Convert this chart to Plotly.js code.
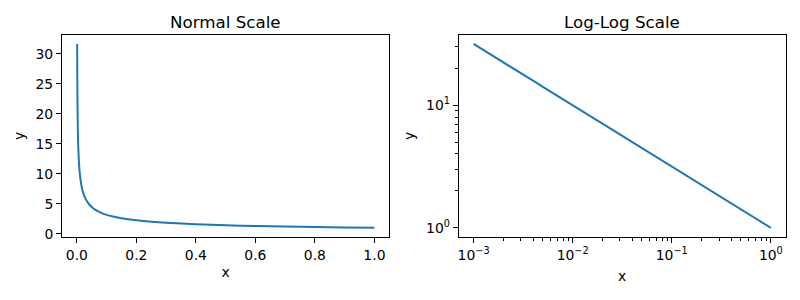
<!DOCTYPE html>
<html>
<head>
<meta charset="utf-8">
<script src="https://cdn.plot.ly/plotly-3.0.1.min.js"></script>
<style>html,body{margin:0;padding:0;background:#fff;}#chart{width:800px;height:300px;}</style>
</head>
<body>
<div id="chart"></div>
<script>
// Values (y vs x)
const xValues = [0.001,0.0012,0.0015,0.0018,0.002,0.0025,0.003,0.0035,0.004,0.0045,0.005,0.006,0.007,0.008,0.009,0.01,0.011,0.0125,0.015,0.0175,0.02,0.025,0.03,0.035,0.04,0.045,0.05,0.06,0.07,0.08,0.09,0.1,0.125,0.15,0.2,0.25,0.3,0.4,0.5,0.6,0.7,0.8,0.9,1.0];
const yValues = [31.6,28.9,25.8,23.6,22.4,20.0,18.3,16.9,15.8,14.9,14.1,12.9,12.0,11.2,10.5,10.0,9.53,8.94,8.16,7.56,7.07,6.32,5.77,5.35,5.0,4.71,4.47,4.08,3.78,3.54,3.33,3.16,2.83,2.58,2.24,2.0,1.83,1.58,1.41,1.29,1.2,1.12,1.05,1.0];
const titles = ["Normal Scale", "Log-Log Scale"];
const linTickVals = [0, 0.2, 0.4, 0.6, 0.8, 1.0];
const linTickText = ["0.0", "0.2", "0.4", "0.6", "0.8", "1.0"];
const linYTickVals = [0, 5, 10, 15, 20, 25, 30];
const logXTickVals = [0.001, 0.01, 0.1, 1];
const logXTickText = ["10<sup>−3</sup>", "10<sup>−2</sup>", "10<sup>−1</sup>", "10<sup>0</sup>"];
const logYTickVals = [1, 10];
const logYTickText = ["10<sup>0</sup>", "10<sup>1</sup>"];

const minorX = [];
for (const d of [0.001, 0.01, 0.1]) for (let k = 2; k <= 9; k++) minorX.push(k * d);
const minorY = [];
for (const d of [1, 10]) for (let k = 2; k <= 9; k++) minorY.push(k * d);

const color = '#1f77b4';
const font = {family: 'DejaVu Sans', size: 13.9, color: '#000'};

const common = {
  showline: true, mirror: true, linecolor: '#000', linewidth: 1,
  ticks: 'outside', ticklen: 5, tickwidth: 1, tickcolor: '#000',
  showgrid: false, zeroline: false, tickfont: font
};

const data = [
  {x: xValues, y: yValues, type: 'scatter', mode: 'lines', line: {color: color, width: 2, shape: 'spline', smoothing: 0.5}, xaxis: 'x', yaxis: 'y', showlegend: false},
  {x: xValues, y: yValues, type: 'scatter', mode: 'lines', line: {color: color, width: 2}, xaxis: 'x2', yaxis: 'y2', showlegend: false}
];

const layout = {
  width: 800, height: 300,
  margin: {l: 0, r: 0, t: 0, b: 0},
  paper_bgcolor: '#fff', plot_bgcolor: '#fff',
  font: font,
  xaxis: Object.assign({}, common, {
    domain: [0.0775, 0.4866], range: [-0.04995, 1.04995],
    tickmode: 'array', tickvals: linTickVals, ticktext: linTickText,
    title: {text: 'x', font: font, standoff: 5}, anchor: 'y'
  }),
  yaxis: Object.assign({}, common, {
    domain: [0.21, 0.8843], range: [-0.53, 33.15],
    tickmode: 'array', tickvals: linYTickVals,
    title: {text: 'y', font: font, standoff: 7}, anchor: 'x'
  }),
  xaxis2: Object.assign({}, common, {
    domain: [0.5734, 0.9821], type: 'log', range: [-3.15, 0.15],
    tickmode: 'array', tickvals: logXTickVals, ticktext: logXTickText,
    minor: {tickmode: 'array', tickvals: minorX, ticks: 'outside', ticklen: 3, tickwidth: 1, tickcolor: '#000', showgrid: false},
    title: {text: 'x', font: font, standoff: 9}, anchor: 'y2'
  }),
  yaxis2: Object.assign({}, common, {
    domain: [0.21, 0.8843], type: 'log', range: [-0.075, 1.575],
    tickmode: 'array', tickvals: logYTickVals, ticktext: logYTickText,
    minor: {tickmode: 'array', tickvals: minorY, ticks: 'outside', ticklen: 3, tickwidth: 1, tickcolor: '#000', showgrid: false},
    title: {text: 'y', font: font, standoff: 8}, anchor: 'x2'
  }),
  annotations: [
    {text: titles[0], xref: 'paper', yref: 'paper', x: (0.0775 + 0.4866) / 2, y: 0.9277, xanchor: 'center', yanchor: 'middle', showarrow: false, font: {family: 'DejaVu Sans', size: 16.7, color: '#000'}},
    {text: titles[1], xref: 'paper', yref: 'paper', x: (0.5734 + 0.9821) / 2, y: 0.9277, xanchor: 'center', yanchor: 'middle', showarrow: false, font: {family: 'DejaVu Sans', size: 16.7, color: '#000'}}
  ]
};

Plotly.newPlot('chart', data, layout, {staticPlot: true, displayModeBar: false});
</script>
</body>
</html>
